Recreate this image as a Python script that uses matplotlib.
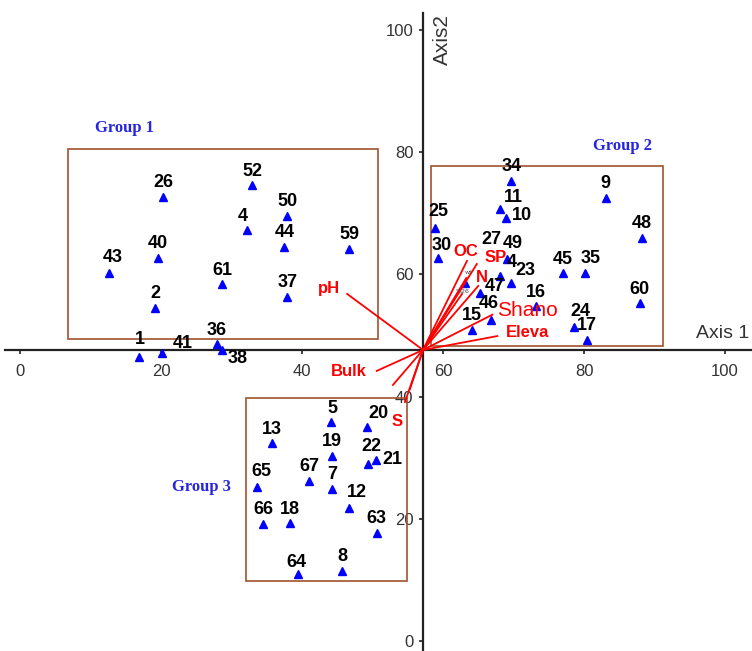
import matplotlib.pyplot as plt
from matplotlib.patches import Rectangle

# site scores on the two ordination axes
site_ids = ['26', '52', '50', '4', '44', '59', '40', '43', '61', '37', '2', '36', '1', '41', '38',
            '34', '9', '11', '10', '25', '48', '30', '45', '35', '60', '16', '24', '17', '47', '46',
            '15', '4', '23', '27', '49',
            '5', '20', '13', '19', '22', '21', '65', '67', '7', '12', '66', '18', '63', '64', '8']
axis1 = [20.3, 32.9, 37.9, 32.2, 37.5, 46.7, 19.6, 12.6, 28.7, 37.9, 19.2, 27.9, 16.9, 20.1, 28.7,
         69.7, 83.1, 68.1, 68.9, 58.9, 88.2, 59.3, 77.0, 80.1, 87.9, 73.2, 78.6, 80.4, 65.3, 66.8,
         64.1, 68.1, 69.7, 63.1, 69.1,
         44.1, 49.2, 35.7, 44.3, 49.4, 50.5, 33.6, 41.0, 44.3, 46.7, 34.5, 38.3, 50.6, 39.4, 45.7]
axis2 = [72.7, 74.6, 69.6, 67.3, 64.5, 64.2, 62.7, 60.2, 58.4, 56.3, 54.5, 48.6, 46.5, 47.1, 47.6,
         75.3, 72.5, 70.7, 69.2, 67.6, 66.0, 62.7, 60.2, 60.2, 55.3, 54.8, 51.4, 49.3, 57.0, 52.5,
         50.9, 59.7, 58.6, 58.6, 62.5,
         35.8, 35.0, 32.4, 30.3, 29.0, 29.6, 25.2, 26.2, 24.9, 21.8, 19.2, 19.3, 17.7, 11.0, 11.5]

# environmental vectors (tips), all starting at the centroid
centroid = (57.16, 47.63)
env_names = ['pH', 'Bulk', '', 'S', '', 'OC', 'SP', 'wt', '%26', 'N', 'Shano', 'Eleva']
env_x = [46.4, 50.6, 52.9, 54.6, 55.3, 63.4, 64.8, 63.3, 62.7, 65.0, 67.0, 67.7]
env_y = [56.8, 44.2, 41.9, 39.1, 41.2, 62.2, 61.7, 59.4, 56.8, 58.1, 53.4, 49.9]

# cluster boxes: (x0, x1, y0, y1)
group_names = ['Group 1', 'Group 2', 'Group 3']
group_boxes = [(6.8, 50.8, 49.4, 80.5), (58.3, 91.2, 48.3, 77.7), (32.1, 54.9, 9.8, 39.8)]

ticks = [0, 20, 40, 60, 80, 100]

# label offsets in pixels where the default (straight above) collides
site_offsets = {0: (0, 14), 3: (-4, 13), 7: (4, 16), 12: (1, 17), 13: (21, 10), 14: (15, -8),
                17: (13, 11), 18: (16, 3), 19: (3, 16), 21: (4, 12), 23: (6, 15), 26: (6, 15),
                28: (14, 6), 29: (-2, 17), 31: (12, 14), 32: (14, 12), 33: (27, 43), 34: (6, 16),
                35: (2, 14), 36: (12, 14), 39: (3, 17), 40: (16, 1), 41: (4, 15), 44: (8, 15),
                48: (-1, 11)}
env_offsets = {'pH': (-18, 5), 'Bulk': (-28, -1), 'S': (-8, -19), 'OC': (-1, 9), 'SP': (19, 6),
               'wt': (2, 6), '%26': (1, 2), 'N': (4, 8), 'Shano': (35, 4), 'Eleva': (30, 4)}
group_label_pos = [(14.8, 84.0), (85.4, 81.0), (25.7, 25.2)]

fig = plt.figure(figsize=(7.52, 6.51), dpi=100)
ax = fig.add_axes([0, 0, 1, 1])
ax.set_xlim(-2.84, 103.83)
ax.set_ylim(-1.64, 104.9)

# axes cross at the centroid
for side in ['top', 'right']:
    ax.spines[side].set_visible(False)
ax.spines['left'].set_position(('data', centroid[0]))
ax.spines['bottom'].set_position(('data', centroid[1]))
ax.spines['left'].set_bounds(-1.64, 102.8)
ax.spines['bottom'].set_bounds(-2.1, 103.83)
for side in ['left', 'bottom']:
    ax.spines[side].set_linewidth(1.6)
    ax.spines[side].set_color('#222222')
ax.set_xticks(ticks)
ax.set_yticks(ticks)
ax.tick_params(direction='out', length=3, width=1.2, colors='#222222', labelcolor='#333333',
               labelsize=12)
ax.tick_params(axis='x', pad=7)
ax.tick_params(axis='y', pad=4)
for lab in ax.get_xticklabels() + ax.get_yticklabels():
    lab.set_family('Liberation Sans')

ax.text(99.6, 50.4, 'Axis 1', fontsize=14, color='#333333', family='Liberation Sans',
        ha='center', va='center')
ax.text(59.9, 98.4, 'Axis2', fontsize=15, color='#333333', family='Liberation Sans',
        rotation=90, ha='center', va='center')

for (x0, x1, y0, y1), name, pos in zip(group_boxes, group_names, group_label_pos):
    ax.add_patch(Rectangle((x0, y0), x1 - x0, y1 - y0, fill=False,
                           edgecolor='#a0522d', lw=1.2, zorder=2))
    ax.text(pos[0], pos[1], name, color='#2626e0', fontsize=12, fontweight='bold',
            family='Liberation Serif', ha='center', va='center')

ax.plot(axis1, axis2, '^', color='#0000ff', markersize=6, zorder=3)
for i, sid in enumerate(site_ids):
    dx, dy = site_offsets.get(i, (0, 14))
    ax.annotate(sid, (axis1[i], axis2[i]), xytext=(dx, dy), textcoords='offset pixels',
                ha='center', va='center', fontsize=13, fontweight='bold',
                family='Liberation Sans', color='black', zorder=4)

for name, x, y in zip(env_names, env_x, env_y):
    ax.plot([centroid[0], x], [centroid[1], y], color='#ff0000', lw=1.3, zorder=5)
    if not name:
        continue
    dx, dy = env_offsets[name]
    if name in ('wt', '%26'):
        ax.annotate(name, (x, y), xytext=(dx, dy), textcoords='offset pixels',
                    ha='center', va='center', fontsize=4.5, color='#444444', zorder=6)
    elif name == 'Shano':
        ax.annotate(name, (x, y), xytext=(dx, dy), textcoords='offset pixels',
                    ha='center', va='center', fontsize=15, color='#ff0000',
                    family='Liberation Sans', zorder=6)
    else:
        ax.annotate(name, (x, y), xytext=(dx, dy), textcoords='offset pixels',
                    ha='center', va='center', fontsize=12, fontweight='bold', color='#ff0000',
                    family='Liberation Sans', zorder=6)

fig.savefig('out.png', dpi=100)
